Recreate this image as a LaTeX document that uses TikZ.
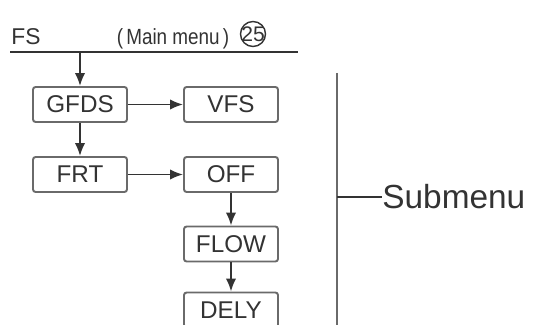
\documentclass[tikz,border=0pt]{standalone}
\usepackage{fontspec}
\setmainfont{Liberation Sans}
\usetikzlibrary{arrows.meta}
\definecolor{inkgray}{HTML}{333333}
\definecolor{boxgray}{HTML}{6A6A6A}
\begin{document}
\begin{tikzpicture}[
    every node/.style={text=inkgray},
    menubox/.style={draw=boxgray, line width=1.1pt, rounded corners=1.5pt,
      minimum width=1.88cm, minimum height=0.7cm, inner sep=0pt,
      font=\fontsize{13.8}{14}\selectfont},
    link/.style={draw=inkgray, line width=1.1pt, -{Latex[length=2.6mm,width=2.1mm]}}
  ]
    \useasboundingbox (0,0) rectangle (10.66,-6.5);

    % Main menu header
    \node[anchor=base west, inner sep=0pt, font=\fontsize{13}{14}\selectfont]
      (fs) at (0.22,-0.9) {FS};
    \node[anchor=base, inner sep=0pt, xscale=0.86, font=\fontsize{12.5}{13}\selectfont]
      (mainmenu) at (3.46,-0.9) {(\,Main menu\,)};
    \node[inner sep=0pt, font=\fontsize{12}{13}\selectfont] (num) at (5.06,-0.68) {25};
    \draw[inkgray, line width=0.8pt] (num.center) circle (0.25cm);
    \draw[inkgray, line width=1.1pt] (0.2,-1.04) -- (5.96,-1.04);
    \coordinate (entry) at (1.6,-1.04);

    % Submenu boxes
    \node[menubox] (gfds) at (1.6,-2.09) {GFDS};
    \node[menubox] (vfs)  at (4.62,-2.09) {VFS};
    \node[menubox] (frt)  at (1.6,-3.49) {FRT};
    \node[menubox] (off)  at (4.62,-3.49) {OFF};
    \node[menubox] (flow) at (4.62,-4.88) {FLOW};
    \node[menubox] (dely) at (4.62,-6.2) {DELY};

    \draw[link] (entry) -- (gfds);
    \draw[link] (gfds) -- (vfs);
    \draw[link] (gfds) -- (frt);
    \draw[link] (frt) -- (off);
    \draw[link] (off) -- (flow);
    \draw[link] (flow) -- (dely);

    % Submenu bracket
    \coordinate (bartop) at (6.74,-1.46);
    \coordinate (barbot) at (6.74,-6.5);
    \coordinate (barmid) at (6.74,-3.94);
    \draw[boxgray, line width=1.2pt] (bartop) -- (barbot);
    \node[anchor=west, inner sep=0pt, font=\fontsize{19}{20}\selectfont]
      (submenu) at (7.64,-3.94) {Submenu};
    \draw[inkgray, line width=0.8pt] (barmid) -- (submenu.west);
  \end{tikzpicture}
\end{document}
